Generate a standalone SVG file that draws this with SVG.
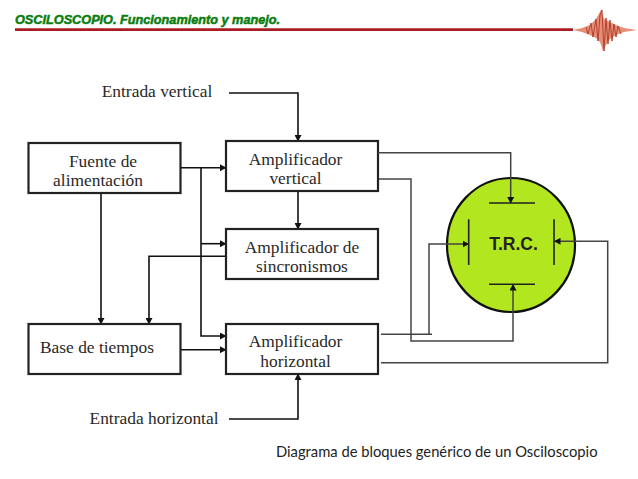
<svg xmlns="http://www.w3.org/2000/svg" width="638" height="479" viewBox="0 0 638 479">
<style>
.box{fill:#fff;stroke:#222;stroke-width:2.2}
.t{font-family:"Liberation Serif",serif;font-size:17.4px;fill:#2a2a2a;text-anchor:middle}
.w{fill:none;stroke:#444;stroke-width:1.5}
.k{fill:none;stroke:#111;stroke-width:1.6}
</style>
<defs>
<marker id="a" markerUnits="userSpaceOnUse" markerWidth="7" markerHeight="7" refX="6" refY="3.5" orient="auto"><path d="M0 0L6.5 3.5L0 7z" fill="#111"/></marker>
</defs>
<rect width="638" height="479" fill="#fff"/>
<g id="header">
<text x="15" y="24" font-family="Liberation Sans,sans-serif" font-size="12.7" font-weight="bold" font-style="italic" fill="#0a7d10" stroke="#0a7d10" stroke-width=".5">OSCILOSCOPIO. Funcionamiento y manejo.</text>
<path d="M15 29.7H573" stroke="#a81c22" stroke-width="2.8" fill="none"/>
<path d="M573 30L582 28 590 25 596 19 601 10 604 19 610 22 616 25 624 28 637 30 624 32 616 35 610 39 606 45 603 51 600 42 596 38 590 35 582 32Z" fill="#e58f78"/>
<path d="M586 27L588 34 591 23 593 37 596 19 598 41 600 15 602 10 604 51 606 18 608 44 610 20 612 41 614 24 616 37 618 26 621 34" fill="none" stroke="#b5412e" stroke-width="1"/>
</g>
<g id="connectors">
<path class="k" d="M229 93H298V141" marker-end="url(#a)"/>
<path class="k" d="M229 419H298V374" marker-end="url(#a)"/>
<path class="k" d="M181 167.7H226" marker-end="url(#a)"/>
<path class="k" d="M201 167.7V336H226" marker-end="url(#a)"/>
<path class="k" d="M201 243.7H226" marker-end="url(#a)"/>
<path class="k" d="M101 193V324" marker-end="url(#a)"/>
<path class="k" d="M298 191V229" marker-end="url(#a)"/>
<path class="k" d="M226 256.3H149V324" marker-end="url(#a)"/>
<path class="k" d="M181 349.7H226" marker-end="url(#a)"/>
</g>
<g id="amp-vertical"><rect class="box" x="226" y="141" width="152" height="50"/><text class="t" x="295.500" y="165">Amplificador</text><text class="t" x="295.500" y="184">vertical</text></g>
<g id="fuente"><rect class="box" x="28.500" y="143" width="152" height="50"/><text class="t" x="103" y="167">Fuente de</text><text class="t" x="98" y="186">alimentación</text></g>
<g id="amp-sinc"><rect class="box" x="226" y="229" width="152" height="50"/><text class="t" x="302" y="253">Amplificador de</text><text class="t" x="302" y="272">sincronismos</text></g>
<g id="base"><rect class="box" x="28.500" y="324" width="152" height="50"/><text class="t" x="97" y="353">Base de tiempos</text></g>
<g id="amp-horizontal"><rect class="box" x="226" y="324" width="152" height="50"/><text class="t" x="295.500" y="347">Amplificador</text><text class="t" x="295.500" y="367">horizontal</text></g>
<g id="entrada-v"><text class="t" x="157" y="97">Entrada vertical</text></g>
<g id="entrada-h"><text class="t" x="154" y="424">Entrada horizontal</text></g>
<g id="trc">
<ellipse cx="511" cy="245" rx="64" ry="67" fill="#b2e61e" stroke="#111" stroke-width="2.2"/>
<path d="M489 203H535M489 284.300H535M468.700 219.300V265M554 219.300V265" stroke="#222" stroke-width="1.6" fill="none"/>
<text x="513.500" y="250" font-family="Liberation Sans,sans-serif" font-size="17.500" font-weight="bold" fill="#222" text-anchor="middle">T.R.C.</text>
</g>
<g id="connectors-trc">
<path class="w" d="M378 152.700H510.700V203" marker-end="url(#a)"/>
<path class="w" d="M379 179H411V341H513V284.500" marker-end="url(#a)"/>
<path class="w" d="M381 334.300H432M429 334.300V244H468.500" marker-end="url(#a)"/>
<path class="w" d="M381 362.700H607.700V241.300H554.500" marker-end="url(#a)"/>
</g>
<g id="caption"><text x="276" y="457" font-family="Lato,sans-serif" font-size="14.750" fill="#222">Diagrama de bloques genérico de un Osciloscopio</text></g>
</svg>
